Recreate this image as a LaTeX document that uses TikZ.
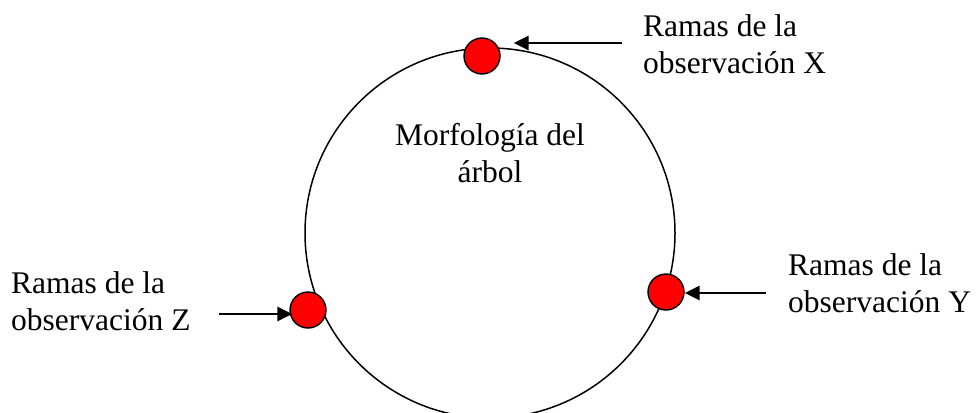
\documentclass[tikz,border=0pt]{standalone}
\usepackage{fontspec}
\setmainfont{Liberation Serif}
\usepackage{tikz}
\usetikzlibrary{arrows.meta}

\tikzset{
  rama/.style={circle, draw=black, line width=1.4pt, fill=red, minimum size=36pt, inner sep=0pt},
  flecha/.style={line width=2.8pt, -{Triangle[length=15pt,width=14pt]}},
  etiqueta/.style={inner sep=0pt, align=left, font=\fontsize{31.5}{37}\selectfont},
}

\begin{document}
\begin{tikzpicture}[x=1pt, y=-1pt]

  \useasboundingbox (0,0) rectangle (976,412);

  %% tree outline
  \draw[line width=1.5pt] (490,233) circle[radius=185pt];
  \node[etiqueta, align=center, anchor=base] (morf) at (490,182) {Morfología del\\árbol};

  %% observed branches
  \node[rama] (dotX) at (482,56) {};
  \node[rama] (dotY) at (666,292) {};
  \node[rama] (dotZ) at (308,310) {};

  %% labels (anchored on the last line)
  \node[etiqueta, anchor=base west] (labX) at (643,74) {Ramas de la\\observación X};
  \node[etiqueta, anchor=base west] (labY) at (788,312) {Ramas de la\\observación Y};
  \node[etiqueta, anchor=base west] (labZ) at (11,330) {Ramas de la\\observación Z};

  \coordinate (armX) at (622,43);
  \coordinate (armY) at (766,293);
  \coordinate (armZ) at (219,314);

  \draw[flecha, shorten >=13pt] (armX) -- (armX -| dotX.east); % X
  \draw[flecha] (armY) -- (armY -| dotY.east); % Y
  \draw[flecha, shorten >=-3pt] (armZ) -- (armZ -| dotZ.west); % Z

\end{tikzpicture}
\end{document}
